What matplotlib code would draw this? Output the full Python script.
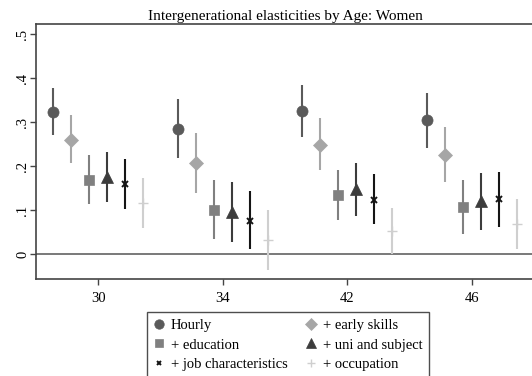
import numpy as np
import matplotlib
matplotlib.use("Agg")
import matplotlib.pyplot as plt
from matplotlib.lines import Line2D

plt.rcParams['font.family'] = ['Liberation Serif', 'DejaVu Serif']

ages = ["30", "34", "42", "46"]
series = ["Hourly", "+ early skills", "+ education", "+ uni and subject",
          "+ job characteristics", "+ occupation"]

# point estimates and 95% bounds, one row per series, one column per age
est = np.array([
    [0.323, 0.284, 0.325, 0.305],
    [0.259, 0.206, 0.248, 0.225],
    [0.168, 0.100, 0.134, 0.107],
    [0.175, 0.096, 0.147, 0.120],
    [0.159, 0.075, 0.123, 0.125],
    [0.116, 0.032, 0.052, 0.068],
])
lo = np.array([
    [0.270, 0.218, 0.266, 0.241],
    [0.207, 0.138, 0.191, 0.164],
    [0.114, 0.034, 0.077, 0.045],
    [0.118, 0.027, 0.086, 0.055],
    [0.102, 0.011, 0.068, 0.061],
    [0.059, -0.036, 0.000, 0.011],
])
hi = np.array([
    [0.377, 0.352, 0.384, 0.366],
    [0.316, 0.274, 0.309, 0.289],
    [0.225, 0.168, 0.191, 0.168],
    [0.232, 0.164, 0.207, 0.184],
    [0.216, 0.143, 0.182, 0.186],
    [0.172, 0.100, 0.105, 0.125],
])

markers = ['o', 'D', 's', '^', 'x', '+']
sizes = [8, 7, 7.5, 8, 4, 7]
widths = [0.5, 0.5, 0.5, 0.5, 1.4, 1.0]
colors = ['#5a5a5a', '#a6a6a6', '#808080', '#3c3c3c', '#151515', '#cfcfcf']

fig = plt.figure(figsize=(5.32, 3.76), dpi=100)
ax = fig.add_axes([36 / 532, 97 / 376, 498 / 532, 255 / 376])

x = np.arange(1, len(ages) + 1)
step = 0.145
handles = []
for i in range(len(series)):
    xi = x + (i - 2.5) * step
    ax.vlines(xi, lo[i], hi[i], color=colors[i], lw=1.5, zorder=2)
    ax.plot(xi, est[i], ls='none', marker=markers[i], ms=sizes[i],
            color=colors[i], mew=widths[i], zorder=3)
    handles.append(Line2D([], [], ls='none', marker=markers[i],
                          ms=sizes[i] * 0.85, color=colors[i], mew=widths[i]))

ax.axhline(0, color='#6e6e6e', lw=1.3, zorder=1)

ax.set_xlim(0.5, 4.5)
ax.set_ylim(-0.057, 0.523)
ax.set_xticks(x)
ax.set_xticklabels(ages)
ax.set_yticks([0, 0.1, 0.2, 0.3, 0.4, 0.5])
ax.set_yticklabels(['0', '.1', '.2', '.3', '.4', '.5'], rotation=90, va='center')
ax.tick_params(axis='both', labelsize=10.5, direction='out', length=4,
               width=1, color='#444444')
ax.tick_params(axis='x', pad=5)
ax.tick_params(axis='y', pad=1)
for s in ax.spines.values():
    s.set_color('#444444')
    s.set_linewidth(1.2)

ax.set_title("Intergenerational elasticities by Age: Women", fontsize=11, pad=3)

order = [0, 2, 4, 1, 3, 5]
leg = fig.legend([handles[k] for k in order], [series[k] for k in order],
                 ncol=2, loc='upper left', bbox_to_anchor=(147 / 532, 1 - 312 / 376),
                 fontsize=10.5, frameon=True, fancybox=False, edgecolor='#222222',
                 handlelength=0.8, handletextpad=0.4, columnspacing=1.2,
                 labelspacing=0.45, borderpad=0.45, borderaxespad=0)
leg.get_frame().set_linewidth(1.0)

fig.savefig("out.png", dpi=100)
